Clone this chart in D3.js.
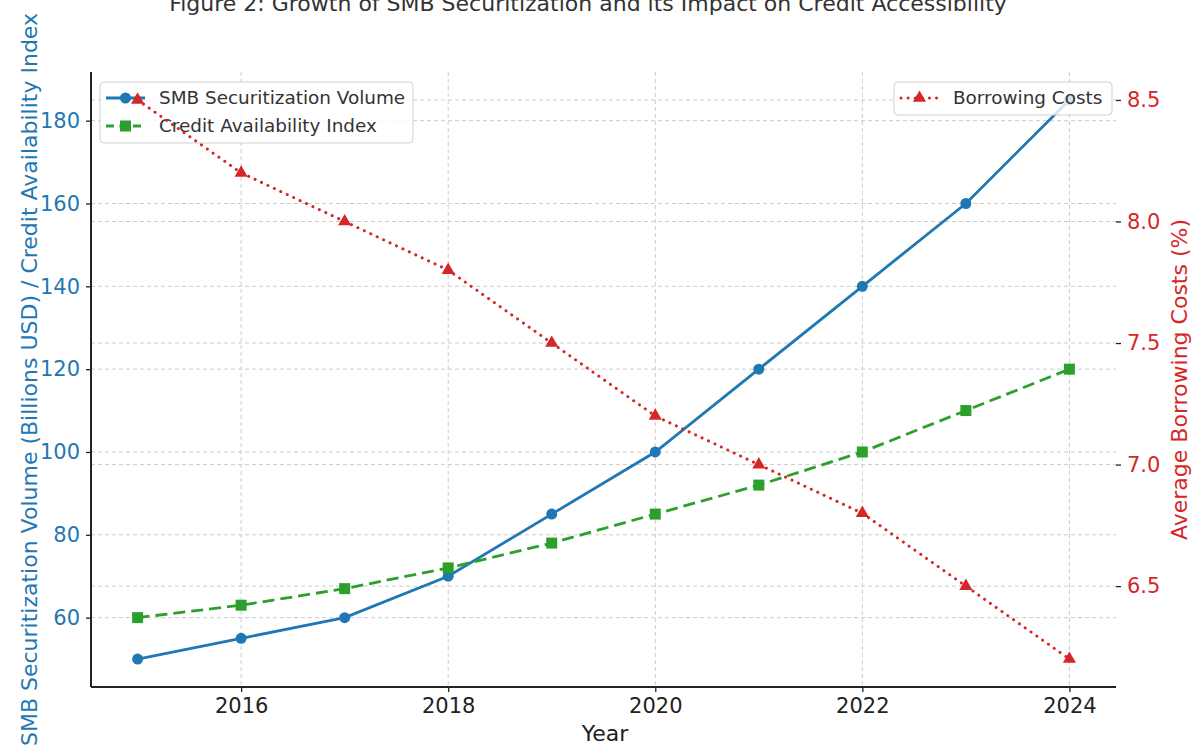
<!DOCTYPE html>
<html>
<head>
<meta charset="utf-8">
<script src="https://cdn.jsdelivr.net/npm/d3@7"></script>
<style>
  body { margin: 0; background: #fff; }
  svg { font-family: "DejaVu Sans", sans-serif; }
</style>
</head>
<body>
<svg id="chart" width="1195" height="746"></svg>
<script>
// Chart data
var years = [2015, 2016, 2017, 2018, 2019, 2020, 2021, 2022, 2023, 2024];
var smbVolume = [50, 55, 60, 70, 85, 100, 120, 140, 160, 185];
var creditIndex = [60, 63, 67, 72, 78, 85, 92, 100, 110, 120];
var borrowingCosts = [8.5, 8.2, 8.0, 7.8, 7.5, 7.2, 7.0, 6.8, 6.5, 6.2];
var xTicks = [2016, 2018, 2020, 2022, 2024];
var leftTicks = [60, 80, 100, 120, 140, 160, 180];
var rightTicks = [6.5, 7.0, 7.5, 8.0, 8.5];

var blue = "#1f77b4", green = "#2ca02c", red = "#d62728";
var font = "DejaVu Sans, sans-serif";

// Plot area
var plotL = 91, plotR = 1116, plotT = 72, plotB = 687;

var svg = d3.select("#chart");

var xScale = d3.scaleLinear().domain([2014.55, 2024.45]).range([plotL, plotR]);
var yLeft = d3.scaleLinear().domain([43.25, 191.75]).range([plotB, plotT]);
var yRight = d3.scaleLinear().domain([6.085, 8.615]).range([plotB, plotT]);

// Grid lines (x, left y, right y)
var grid = svg.append("g")
    .attr("stroke", "#cccccc")
    .attr("stroke-width", 1)
    .attr("stroke-dasharray", "4,3");

grid.selectAll(".gx").data(xTicks).enter().append("line")
    .attr("x1", function(d) { return xScale(d); })
    .attr("x2", function(d) { return xScale(d); })
    .attr("y1", plotT).attr("y2", plotB);

grid.selectAll(".gl").data(leftTicks).enter().append("line")
    .attr("x1", plotL).attr("x2", plotR)
    .attr("y1", function(d) { return yLeft(d); })
    .attr("y2", function(d) { return yLeft(d); });

grid.selectAll(".gr").data(rightTicks).enter().append("line")
    .attr("x1", plotL).attr("x2", plotR)
    .attr("y1", function(d) { return yRight(d); })
    .attr("y2", function(d) { return yRight(d); });

// Axes
var xAxis = svg.append("g")
    .attr("transform", "translate(0," + plotB + ")")
    .call(d3.axisBottom(xScale).tickValues(xTicks).tickFormat(d3.format("d")).tickSize(5).tickPadding(6))
    .attr("font-family", font).attr("font-size", 21);
xAxis.select(".domain").attr("stroke", "#222").attr("stroke-width", 2).attr("d", "M" + plotL + ",0H" + plotR);
xAxis.selectAll(".tick line").attr("stroke", "#222").attr("stroke-width", 1.3);
xAxis.selectAll("text").attr("fill", "#222");

var leftAxis = svg.append("g")
    .attr("transform", "translate(" + plotL + ",0)")
    .call(d3.axisLeft(yLeft).tickValues(leftTicks).tickSize(5).tickPadding(6))
    .attr("font-family", font).attr("font-size", 21);
leftAxis.select(".domain").attr("stroke", "#222").attr("stroke-width", 2).attr("d", "M0," + plotT + "V" + plotB);
leftAxis.selectAll(".tick line").attr("stroke", "#222").attr("stroke-width", 1.3);
leftAxis.selectAll("text").attr("fill", blue);

var rightAxis = svg.append("g")
    .attr("transform", "translate(" + plotR + ",0)")
    .call(d3.axisRight(yRight).tickValues(rightTicks).tickFormat(d3.format(".1f")).tickSize(5).tickPadding(6))
    .attr("font-family", font).attr("font-size", 21);
rightAxis.select(".domain").remove();
rightAxis.selectAll(".tick line").attr("stroke", "#222").attr("stroke-width", 1.3);
rightAxis.selectAll("text").attr("fill", red);

// Left-axis lines
var lineLeft = function(vals) {
    return d3.line()
        .x(function(d, i) { return xScale(years[i]); })
        .y(function(d) { return yLeft(d); })(vals);
};

svg.append("path")
    .attr("d", lineLeft(smbVolume))
    .attr("fill", "none").attr("stroke", blue).attr("stroke-width", 2.8);

svg.selectAll(".smbDot").data(smbVolume).enter().append("circle")
    .attr("cx", function(d, i) { return xScale(years[i]); })
    .attr("cy", function(d) { return yLeft(d); })
    .attr("r", 5.5).attr("fill", blue);

svg.append("path")
    .attr("d", lineLeft(creditIndex))
    .attr("fill", "none").attr("stroke", green).attr("stroke-width", 2.8)
    .attr("stroke-dasharray", "12,6");

svg.selectAll(".credSq").data(creditIndex).enter().append("rect")
    .attr("x", function(d, i) { return xScale(years[i]) - 5.5; })
    .attr("y", function(d) { return yLeft(d) - 5.5; })
    .attr("width", 11).attr("height", 11).attr("fill", green);

// Legend 1 (drawn before the right-axis series, which sit on top of it)
var leg1 = svg.append("g");
leg1.append("rect")
    .attr("x", 100).attr("y", 82).attr("width", 313).attr("height", 61).attr("rx", 4)
    .attr("fill", "rgba(255,255,255,0.8)").attr("stroke", "#d0d0d0");
leg1.append("line").attr("x1", 106).attr("x2", 145).attr("y1", 98).attr("y2", 98)
    .attr("stroke", blue).attr("stroke-width", 2.8);
leg1.append("circle").attr("cx", 125.5).attr("cy", 98).attr("r", 5.5).attr("fill", blue);
leg1.append("text").attr("x", 159).attr("y", 104).text("SMB Securitization Volume")
    .attr("fill", "#333").style("font-size", "18.4px");
leg1.append("line").attr("x1", 106).attr("x2", 145).attr("y1", 126).attr("y2", 126)
    .attr("stroke", green).attr("stroke-width", 2.8).attr("stroke-dasharray", "8,5.5");
leg1.append("rect").attr("x", 120).attr("y", 120.5).attr("width", 11).attr("height", 11).attr("fill", green);
leg1.append("text").attr("x", 159).attr("y", 132).text("Credit Availability Index")
    .attr("fill", "#333").style("font-size", "18.4px");

// Right-axis line
var costLine = d3.line()
    .x(function(d, i) { return xScale(years[i]); })
    .y(function(d) { return yRight(d); });

svg.append("path")
    .attr("d", costLine(borrowingCosts))
    .attr("fill", "none").attr("stroke", red).attr("stroke-width", 3)
    .attr("stroke-linecap", "round")
    .attr("stroke-dasharray", "0.1,7");

var tri = d3.symbol().type(d3.symbolTriangle).size(75);
svg.selectAll(".costTri").data(borrowingCosts).enter().append("path")
    .attr("d", tri)
    .attr("transform", function(d, i) { return "translate(" + xScale(years[i]) + "," + yRight(d) + ")"; })
    .attr("fill", red);

// Legend 2
var leg2 = svg.append("g");
leg2.append("rect")
    .attr("x", 894).attr("y", 82).attr("width", 218).attr("height", 33).attr("rx", 4)
    .attr("fill", "rgba(255,255,255,0.8)").attr("stroke", "#d0d0d0");
leg2.append("line").attr("x1", 901).attr("x2", 938).attr("y1", 98).attr("y2", 98)
    .attr("stroke", red).attr("stroke-width", 3).attr("stroke-linecap", "round")
    .attr("stroke-dasharray", "0.1,7");
leg2.append("path").attr("d", tri).attr("transform", "translate(919.5,98)").attr("fill", red);
leg2.append("text").attr("x", 953).attr("y", 104).text("Borrowing Costs")
    .attr("fill", "#333").style("font-size", "18.4px");

// Titles and axis labels
svg.append("text")
    .attr("x", 588).attr("y", 11).attr("text-anchor", "middle")
    .attr("fill", "#333").style("font-size", "22px")
    .text("Figure 2: Growth of SMB Securitization and its Impact on Credit Accessibility");

svg.append("text")
    .attr("x", 605).attr("y", 741).attr("text-anchor", "middle")
    .attr("fill", "#222").style("font-size", "22px")
    .text("Year");

svg.append("text")
    .attr("transform", "translate(37," + ((plotT + plotB) / 2) + ") rotate(-90)")
    .attr("text-anchor", "middle")
    .attr("fill", blue).style("font-size", "22px")
    .text("SMB Securitization Volume (Billions USD) / Credit Availability Index");

svg.append("text")
    .attr("transform", "translate(1187," + ((plotT + plotB) / 2) + ") rotate(-90)")
    .attr("text-anchor", "middle")
    .attr("fill", red).style("font-size", "22px")
    .text("Average Borrowing Costs (%)");
</script>
</body>
</html>
